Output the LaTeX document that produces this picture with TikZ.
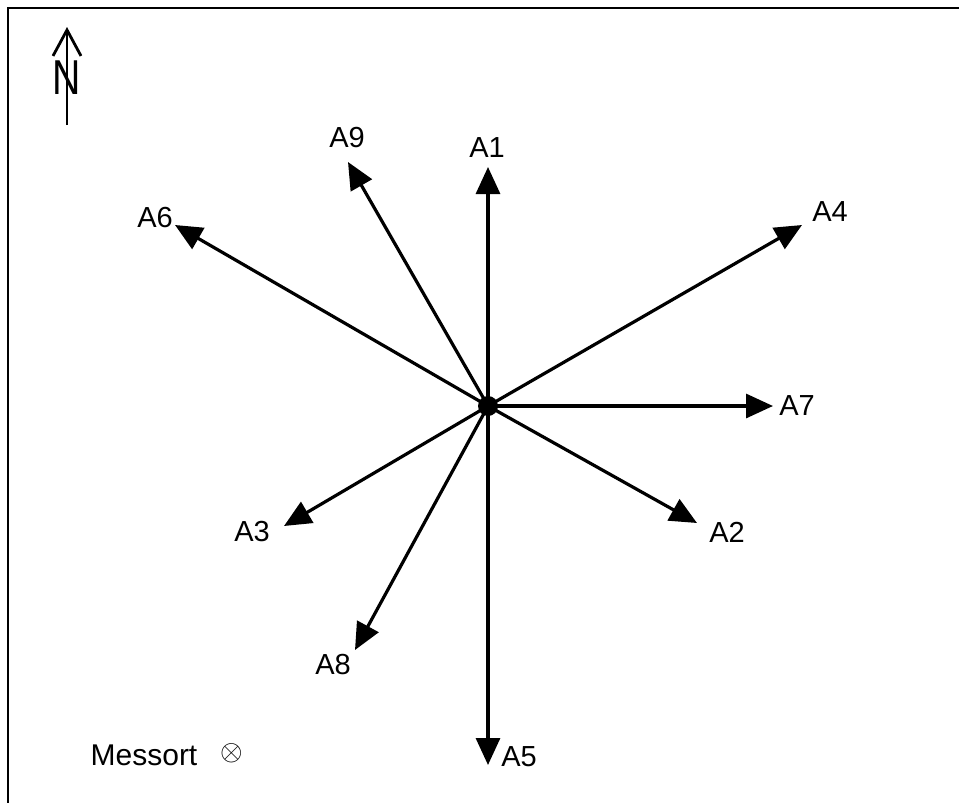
\documentclass[tikz,border=0pt]{standalone}
\usepackage{fontspec}
\setmainfont{Liberation Sans}
\usetikzlibrary{arrows.meta}
\tikzset{
  ray/.style={line width=3.2pt,-{Triangle[length=27pt,width=24pt]}},
  lbl/.style={font=\fontsize{29}{34}\selectfont,inner sep=0pt},
}
\begin{document}
\begin{tikzpicture}[x=1pt,y=-1pt]
\useasboundingbox (0,0) rectangle (959,803);
\draw[line width=1.5pt] (8,803) -- (8,8) -- (959,8);
% north arrow
\coordinate (nb) at (67,125);
\coordinate (nt) at (67,27);
\node[font=\fontsize{49}{50}\selectfont,inner sep=0pt,xscale=0.8] (N) at (67,78) {N};
\draw[line width=2.8pt,-{Straight Barb[length=26pt,width=28pt,line width=2.8pt]}] (nb) -- (nt);
% center
\node[circle,fill=black,minimum size=20pt,inner sep=0pt] (c) at (488,406) {};
\coordinate (t1) at (488,167);
\coordinate (t9) at (348,162);
\coordinate (t6) at (175,225);
\coordinate (t4) at (802,225);
\coordinate (t7) at (773,406);
\coordinate (t2) at (697,523);
\coordinate (t3) at (284,526);
\coordinate (t8) at (355,650);
\coordinate (t5) at (488,765);
\foreach \t in {t1,t9,t6,t4,t7,t2,t3,t8,t5} \draw[ray] (c.center) -- (\t);
\node[lbl] (A1) at (487,148) {A1};
\node[lbl] (A9) at (347,138) {A9};
\node[lbl] (A6) at (155,218) {A6};
\node[lbl] (A4) at (830,212) {A4};
\node[lbl] (A7) at (797,406) {A7};
\node[lbl] (A2) at (727,532) {A2};
\node[lbl] (A3) at (252,532) {A3};
\node[lbl] (A8) at (333,665) {A8};
\node[lbl] (A5) at (519,757) {A5};
\node[lbl,font=\fontsize{30}{34}\selectfont] (M) at (144,755) {Messort};
\node[inner sep=0pt,scale=2.9] (X) at (232,753) {$\otimes$};
\end{tikzpicture}
\end{document}
